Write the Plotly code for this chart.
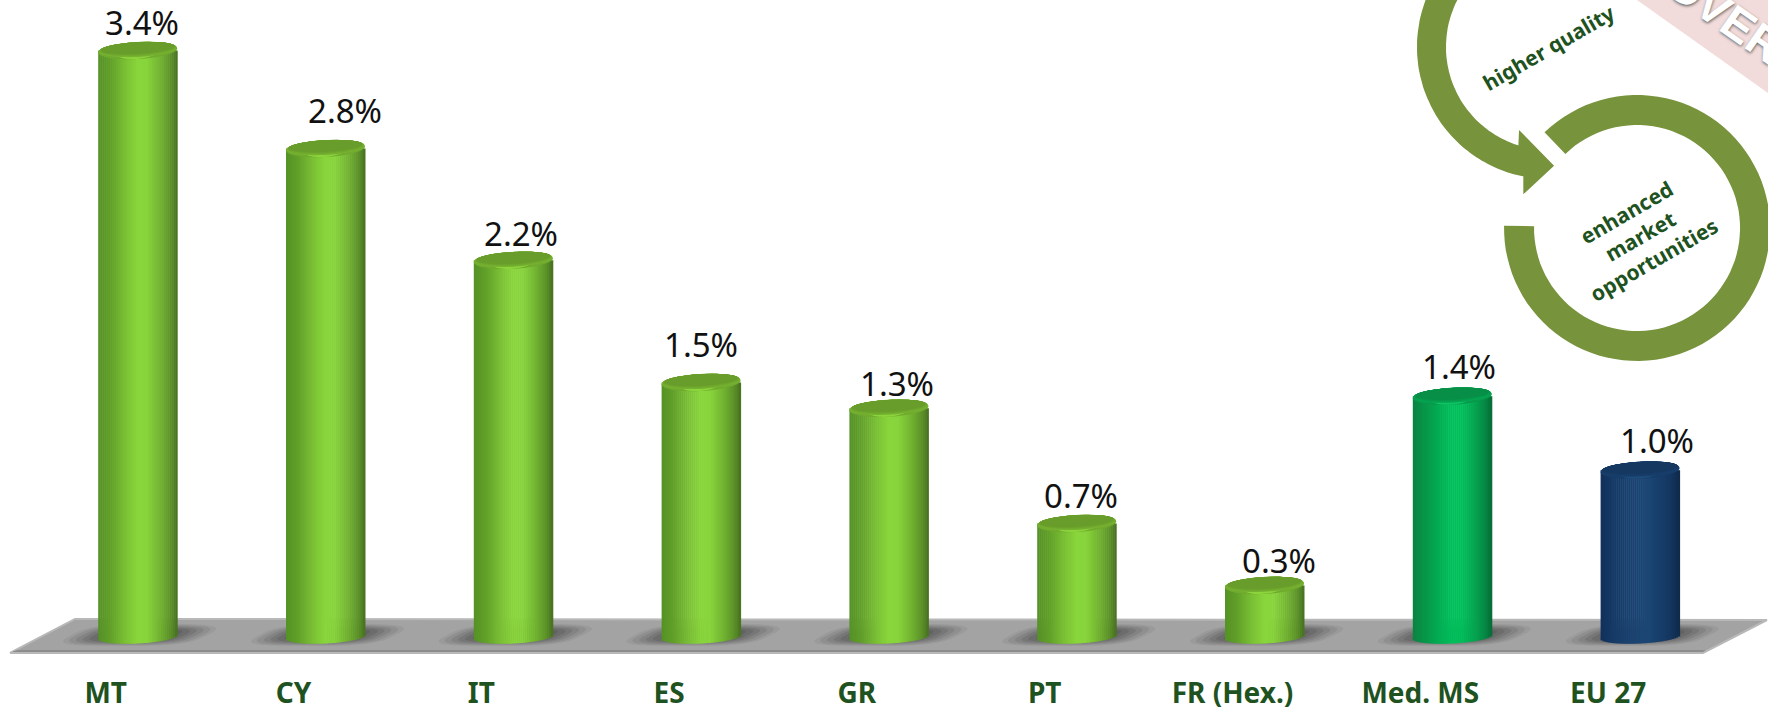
import numpy as np
import plotly.graph_objects as go

# ---------- data ----------
categories = ["MT", "CY", "IT", "ES", "GR", "PT", "FR (Hex.)", "Med. MS", "EU 27"]
values = [3.41, 2.84, 2.19, 1.48, 1.33, 0.66, 0.30, 1.40, 0.97]

# ---------- layout constants ----------
W, H = 1768, 710
PLOT_H = 672
PX_PER_UNIT = 172.0
ZERO_PX = 637.0
BAR_W = 79.0
STEP = 187.8
X0 = 137.7
RY_BASE, RY_TOP, TILT = 6.5, 8.5, 2.0
N = 40
LABEL_DX = [4, 19, 8, 0, 8, 4, 14, 7, 17]
LABEL_DY = [27.5, 38.5, 27, 38, 25, 27.5, 25, 30, 30]

GREEN = dict(stops=[(0, "#559226"), (.15, "#62a02a"), (.35, "#7cc236"), (.5, "#8ad63c"), (.62, "#88d43c"),
                    (.8, "#70b030"), (.93, "#5a8e28"), (1, "#46701f")],
             rim="#70aa2e", hi="#8bd43c", front="#78b432", rear="#689c2b")
MED = dict(stops=[(0, "#0a8442"), (.15, "#08964a"), (.35, "#03b054"), (.5, "#00c05c"), (.62, "#00bf5b"),
                  (.8, "#05a24f"), (.93, "#078343"), (1, "#066a36")],
           rim="#08994b", hi="#0cc462", front="#06a853", rear="#088f47")
EU = dict(stops=[(0, "#12315a"), (.15, "#153a66"), (.35, "#19416f"), (.5, "#1b4573"), (.62, "#1b4573"),
                 (.8, "#173c68"), (.93, "#13325a"), (1, "#102a48")],
          rim="#163c68", hi="#1e4c7c", front="#19406e", rear="#153860")
palette = [GREEN] * 7 + [MED, EU]


def rgb(h):
    return np.array([int(h[i:i + 2], 16) for i in (1, 3, 5)], float)


def shade(stops, t):
    ts = [s[0] for s in stops]
    cs = np.array([rgb(s[1]) for s in stops])
    return "rgb(%d,%d,%d)" % tuple(np.interp(t, ts, cs[:, k]) for k in range(3))


def closed(xs, ys):
    return "M" + " L".join(f"{a:.4f},{b:.4f}" for a, b in zip(xs, ys)) + " Z"


def ppath(pts):
    a = np.array(pts, float)
    return closed(a[:, 0] / W, 1 - a[:, 1] / PLOT_H)


def arc(cx, cy, r, a0, a1, n=90):
    th = np.radians(np.linspace(a0, a1, n))
    return list(zip(cx + r * np.cos(th), cy + r * np.sin(th)))


fig = go.Figure()

# ---------- cylinders: vertical strips through the bar scale ----------
sw = BAR_W / N
for k in range(N):
    t = (k + .5) / N
    u = 2 * t - 1
    low = (-RY_BASE * np.sqrt(1 - u * u) + TILT * u) / PX_PER_UNIT
    fig.add_trace(go.Bar(
        x=categories,
        y=[v - low for v in values],
        base=[low] * len(values),
        width=(sw + .5) / STEP,
        offset=(-BAR_W / 2 + k * sw) / STEP,
        marker=dict(color=[shade(p["stops"], t) for p in palette], line=dict(width=0)),
        showlegend=False, hoverinfo="skip"))

shapes = []

# ---------- floor ----------
shapes.append(dict(type="path", xref="paper", yref="paper", layer="below",
                   path=ppath([(75, 619), (1767, 620), (1703, 653), (10, 653)]),
                   fillcolor="#a3a3a3", line=dict(color="#b8b8b8", width=2)))
shapes.append(dict(type="path", xref="paper", yref="paper", layer="below",
                   path=ppath([(17, 650), (1706, 650), (1703, 652), (12, 652)]),
                   fillcolor="#8c8c8c", line=dict(width=0)))

# ---------- shadows ----------
th = np.linspace(0, 2 * np.pi, 60)
for cat in categories:
    for rx, ry, op in [(68, 11, .05), (63, 10, .07), (57, 9, .08), (51, 8, .09), (45, 7, .09), (38, 6, .09)]:
        c, s = np.cos(th), np.sin(th)
        yy = ry * np.sign(s) * np.abs(s) ** .6
        xx = rx * np.sign(c) * np.abs(c) ** .6 + 1.9 * yy
        shapes.append(dict(type="path", layer="below", xref="x", yref="y",
                           xsizemode="pixel", ysizemode="pixel", xanchor=cat, yanchor=0,
                           path=closed(xx + 2, yy + 2), fillcolor="black", opacity=op, line=dict(width=0)))

# ---------- cylinder tops ----------
for cat, v, p in zip(categories, values, palette):
    layers = [(39.5, RY_TOP, 0.0, p["rim"]), (22, 7.8, -0.6, p["hi"])]
    for f in np.linspace(0, 1, 7):
        col = shade([(0, p["front"]), (1, p["rear"])], f)
        layers.append((39 - 2.5 * f, 7.4 - 1.8 * f, 1.0 + 1.6 * f, col))
    for rx, ry, dy, col in layers:
        c, s = np.cos(th), np.sin(th)
        shapes.append(dict(type="path", layer="above", xref="x", yref="y",
                           xsizemode="pixel", ysizemode="pixel", xanchor=cat, yanchor=v,
                           path=closed(rx * c, ry * s + TILT * c + dy), fillcolor=col, line=dict(width=0)))

# ---------- decoration: banner and arrows ----------
OLIVE = "#77933c"
shapes.append(dict(type="path", xref="paper", yref="paper", layer="below",
                   path=ppath([(1637, 0), (1768, 93), (1768, 0)]), fillcolor="#f2dcdb", line=dict(width=0)))
head = [(1523.3, 176.7), (1523.3, 194.3), (1554, 165.7), (1519, 130), (1518.3, 145.7)]
ring1 = arc(1549, 47, 132, 235, 101) + head + arc(1549, 47, 103, 107, 235)
shapes.append(dict(type="path", xref="paper", yref="paper", layer="below",
                   path=ppath(ring1), fillcolor=OLIVE, line=dict(width=0)))
ring2 = arc(1637, 228, 133, 226, 541) + arc(1637, 228, 103, 541, 226)
shapes.append(dict(type="path", xref="paper", yref="paper", layer="below",
                   path=ppath(ring2), fillcolor=OLIVE, line=dict(width=0)))

# ---------- annotations ----------
ann = []
for cat, v, dx, dy in zip(categories, values, LABEL_DX, LABEL_DY):
    ann.append(dict(x=cat, y=v, xref="x", yref="y", text=f"{v:.1f}%", showarrow=False,
                    xshift=dx, yshift=dy, yanchor="middle",
                    font=dict(family="Noto Sans", size=33, color="#111111")))
DG = "#1e5220"
common = dict(xref="paper", yref="paper", showarrow=False, xanchor="center", yanchor="middle")
ann.append(dict(x=1548 / W, y=1 - 48 / PLOT_H, text="<b>higher quality</b>", textangle=-30,
                font=dict(family="Noto Sans", size=21, color=DG), **common))
ann.append(dict(x=1640 / W, y=1 - 237 / PLOT_H, text="<b>enhanced<br>market<br>opportunities</b>", align="center",
                textangle=-30, font=dict(family="Noto Sans", size=21, color=DG), **common))
ann.append(dict(x=1725 / W, y=1 - 15 / PLOT_H, text="<b>OVER</b>", textangle=35,
                font=dict(family="Liberation Sans", size=46, color="white", shadow="1px 1px 3px #666666"), **common))

fig.update_layout(
    width=W, height=H,
    margin=dict(l=0, r=0, t=0, b=H - PLOT_H, pad=0, autoexpand=False),
    paper_bgcolor="white", plot_bgcolor="rgba(0,0,0,0)",
    barmode="overlay", showlegend=False,
    shapes=shapes, annotations=ann,
    xaxis=dict(type="category", categoryorder="array", categoryarray=categories, automargin=False,
               range=[-X0 / STEP, (W - X0) / STEP], showgrid=False, zeroline=False, showline=False,
               ticks="", ticklabelshift=-32, ticklabelstandoff=2,
               tickfont=dict(family="Noto Sans", size=28, color=DG, weight="bold"), tickangle=0),
    yaxis=dict(range=[-(PLOT_H - ZERO_PX) / PX_PER_UNIT, ZERO_PX / PX_PER_UNIT],
               visible=False, showgrid=False, zeroline=False, automargin=False),
)

fig.write_html("out.html", config={"displayModeBar": False},
               post_script="document.body.style.margin='0';document.body.style.overflow='hidden';")
